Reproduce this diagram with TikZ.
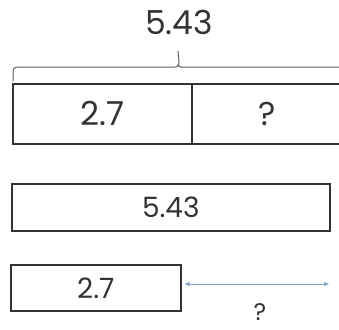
\documentclass[tikz,border=0pt]{standalone}
\usepackage{fontspec}
\setmainfont{Poppins}
\usetikzlibrary{arrows.meta}
\definecolor{ink}{HTML}{333333}
\definecolor{gap}{HTML}{7FA6CF}
\tikzset{
  cell/.style={draw=ink, line width=1.6pt, inner sep=0pt, text=ink, anchor=north west},
  bigtxt/.style={font=\fontsize{33}{36}\selectfont},
  midtxt/.style={font=\fontsize{28}{31}\selectfont},
  bracket/.style={draw=ink!80, line width=1pt},
  gaparrow/.style={draw=gap, line width=0.8pt, {Triangle[length=5pt,width=4pt]}-{Triangle[length=5pt,width=4pt]}}
}
\begin{document}
\begin{tikzpicture}[x=1pt,y=-1pt]
\useasboundingbox (0,0) rectangle (339,329);
% total above the bracket
\node[text=ink, bigtxt] (total) at (179,22) {5.43};
% bracket over the whole bar
\coordinate (bl) at (13,81);
\coordinate (bt) at (178,51);
\coordinate (br) at (341,67);
\draw[bracket] (bl) -- (13,71) to[out=90,in=180] (17,67) -- (175,67) to[out=0,in=-90] (bt);
\draw[bracket] (bt) ++(0,13) to[out=-90,in=180] (181,67) -- (br);
% part-part bar
\node[cell, minimum width=179pt, minimum height=60pt, bigtxt] (known) at (12,83) {2.7};
\node[cell, minimum width=150pt, minimum height=60pt, bigtxt] (unknown) at (191,83) {?};
% whole bar
\node[cell, minimum width=318pt, minimum height=47pt, midtxt] (whole) at (11,183) {5.43};
% comparison bar
\node[cell, minimum width=170pt, minimum height=46pt, midtxt] (part) at (10,264) {2.7};
\coordinate (gapend) at (329,284);
\draw[gaparrow] (part.east |- gapend) ++(3,0) coordinate (gapstart) -- (gapend);
\node[text=ink, inner sep=0pt, anchor=base, font=\fontsize{24}{26}\selectfont] (q) at (260,320) {?};
\end{tikzpicture}
\end{document}
